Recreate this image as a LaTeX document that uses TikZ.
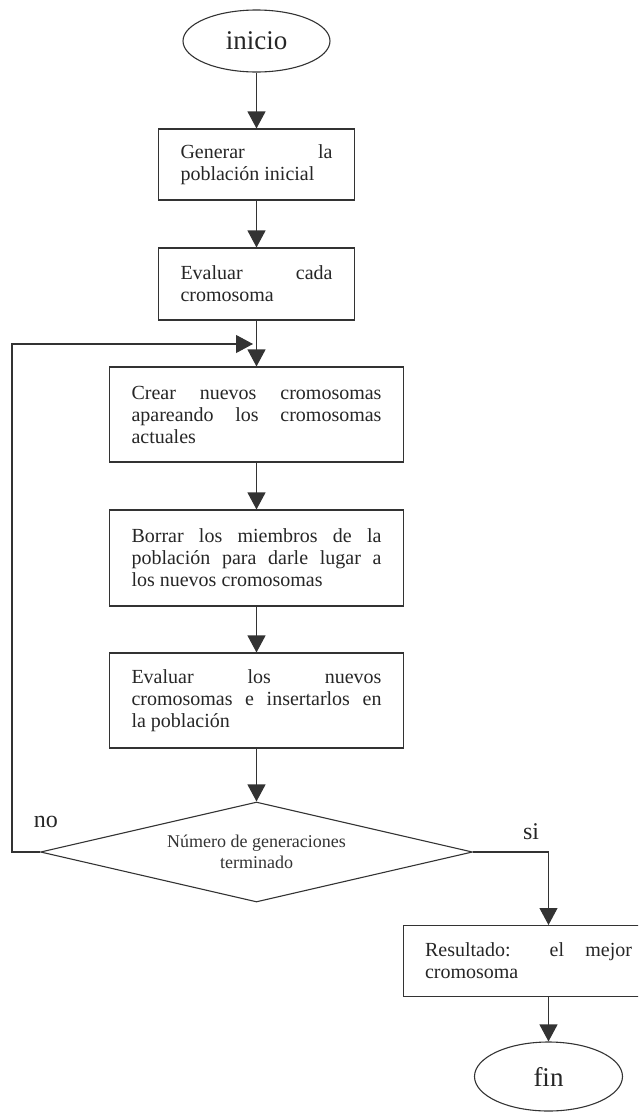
\documentclass[tikz,border=0pt]{standalone}
\usepackage{fontspec}
\setmainfont{Liberation Serif}
\usetikzlibrary{arrows.meta,shapes.geometric}
\begin{document}
\begin{tikzpicture}[x=1pt,y=-1pt,
  ink/.style={draw=black!80, line width=1.1pt},
  box/.style={ink, rectangle, inner sep=0pt, align=justify, text=black!85,
    font=\fontsize{20}{22}\selectfont},
  term/.style={ink, ellipse, inner sep=0pt, text=black!85,
    font=\fontsize{27}{30}\selectfont},
  decision/.style={ink, diamond, aspect=4.32, inner sep=0pt, align=center,
    text=black!80, font=\fontsize{18}{21}\selectfont},
  flow/.style={ink, -{Triangle[width=18pt,length=17pt]}},
  lbl/.style={text=black!85, font=\fontsize{24}{26}\selectfont}
]
\useasboundingbox (0,0) rectangle (638,1112);
\clip (0,0) rectangle (638,1112);

% terminals
\node[term, minimum width=147pt, minimum height=62pt] (ini) at (256.5,41) {inicio};
\node[term, minimum width=148pt, minimum height=69pt] (fin) at (548.5,1076.5) {fin};

% process steps
\node[box, text width=152pt, minimum width=196pt, minimum height=71pt] (gen) at (256.5,164.5)
  {Generar la\linebreak población inicial};
\node[box, text width=152pt, minimum width=196pt, minimum height=72pt] (eva) at (256.5,284)
  {Evaluar cada\linebreak cromosoma};
\node[box, text width=250pt, minimum width=294pt, minimum height=95pt] (cre) at (256.5,414.5)
  {Crear nuevos cromosomas\linebreak apareando los cromosomas\linebreak actuales};
\node[box, text width=250pt, minimum width=294pt, minimum height=96pt] (bor) at (256.5,558)
  {Borrar los miembros de la\linebreak población para darle lugar a\linebreak los nuevos cromosomas};
\node[box, text width=250pt, minimum width=294pt, minimum height=95pt] (ins) at (256.5,700.5)
  {Evaluar los nuevos\linebreak cromosomas e insertarlos en\linebreak la población};

% decision
\node[decision, minimum width=432pt, minimum height=100pt] (dec) at (256.5,852)
  {Número de generaciones\\terminado};

% result
\node[box, anchor=north west, text width=207pt, minimum width=250pt, minimum height=71pt] (res) at (403,925)
  {Resultado: el mejor\linebreak cromosoma};

% branch labels
\node[lbl] (no) at (46,822) {no};
\node[lbl] (si) at (531,832) {si};

% connectors
\coordinate (loopend) at (253,344);
\draw[flow] (ini) -- (gen);
\draw[flow] (gen) -- (eva);
\draw[flow] (eva) -- (cre);
\draw[flow] (cre) -- (bor);
\draw[flow] (bor) -- (ins);
\draw[flow] (ins) -- (dec);
\draw[flow] (dec.west) -- ++(-28,0) |- (loopend);
\draw[flow] (dec.east) -| ([xshift=145.5pt]res.north west);
\draw[flow] ([xshift=145.5pt]res.south west) -- (fin.north);
\end{tikzpicture}
\end{document}
